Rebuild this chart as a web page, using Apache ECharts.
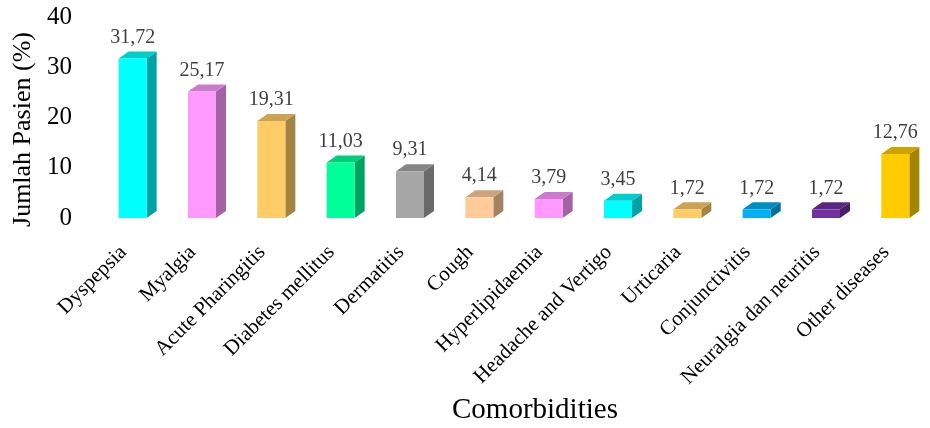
<!DOCTYPE html>
<html>
<head>
<meta charset="utf-8">
<script src="https://cdn.jsdelivr.net/npm/echarts@6/dist/echarts.min.js"></script>
<style>
  html, body { margin: 0; padding: 0; background: #fff; }
  #chart { width: 930px; height: 428px; }
</style>
</head>
<body>
<div id="chart"></div>
<script>
const categories = [
  'Dyspepsia', 'Myalgia', 'Acute Pharingitis', 'Diabetes mellitus', 'Dermatitis', 'Cough',
  'Hyperlipidaemia', 'Headache and Vertigo', 'Urticaria', 'Conjunctivitis',
  'Neuralgia dan neuritis', 'Other diseases'
]
const values = [31.72, 25.17, 19.31, 11.03, 9.31, 4.14, 3.79, 3.45, 1.72, 1.72, 1.72, 12.76]
const barColors = [
  '#00ffff', '#ff99ff', '#ffcc66', '#00ff99', '#a6a6a6', '#ffcc99',
  '#ff99ff', '#00ffff', '#ffcc66', '#00b0f0', '#7030a0', '#ffcc00'
]
const yTicks = [0, 10, 20, 30, 40]

const FONT = "'Liberation Serif', 'Times New Roman', serif"

// darken a hex colour by factor k
function shade(hex, k) {
  const n = parseInt(hex.slice(1), 16)
  const r = Math.round(((n >> 16) & 255) * k)
  const g = Math.round(((n >> 8) & 255) * k)
  const b = Math.round((n & 255) * k)
  return 'rgb(' + r + ',' + g + ',' + b + ')'
}

const chart = echarts.init(document.getElementById('chart'))

const W = 28, DX = 10, DY = 7

function renderBar(params, api) {
  const idx = api.value(0)
  const top = api.coord([idx, api.value(1)])
  const base = api.coord([idx, 0])
  const x = top[0] - W / 2
  const color = barColors[params.dataIndex]
  const label = api.value(1).toFixed(2).replace('.', ',')
  return {
    type: 'group',
    children: [
      {
        type: 'polygon',
        shape: { points: [[x + W, top[1]], [x + W + DX, top[1] - DY], [x + W + DX, base[1] - DY], [x + W, base[1]]] },
        style: { fill: shade(color, 0.64) }
      },
      {
        type: 'polygon',
        shape: { points: [[x, top[1]], [x + DX, top[1] - DY], [x + W + DX, top[1] - DY], [x + W, top[1]]] },
        style: { fill: shade(color, 0.8) }
      },
      {
        type: 'rect',
        shape: { x: x, y: top[1], width: W, height: base[1] - top[1] },
        style: { fill: color }
      },
      {
        type: 'text',
        style: {
          text: label, x: top[0], y: top[1] - DY - 4,
          align: 'center', verticalAlign: 'bottom',
          font: '20px ' + FONT, fill: '#404040'
        }
      }
    ]
  }
}

chart.setOption({
  animation: false,
  grid: { left: 98, top: 17, width: 840, height: 201 },
  xAxis: {
    type: 'category',
    data: categories,
    axisLine: { show: false },
    axisTick: { show: false },
    axisLabel: { rotate: 45, margin: 22, padding: [0, 13, 0, 0], fontFamily: FONT, fontSize: 21, color: '#000' }
  },
  yAxis: {
    type: 'value',
    min: yTicks[0],
    max: yTicks[yTicks.length - 1],
    interval: 10,
    name: 'Jumlah Pasien (%)',
    nameLocation: 'middle',
    nameGap: 60,
    nameTextStyle: { fontFamily: FONT, fontSize: 26, color: '#000', padding: [0, 24, 0, 0] },
    axisLine: { show: false },
    axisTick: { show: false },
    splitLine: { show: false },
    axisLabel: { margin: 26, padding: [8, 0, 0, 0], fontFamily: FONT, fontSize: 25, color: '#000' }
  },
  graphic: [{
    type: 'text',
    left: 452,
    top: 396,
    style: { text: 'Comorbidities', font: '29px ' + FONT, fill: '#000' }
  }],
  series: [{
    type: 'custom',
    renderItem: renderBar,
    data: values.map((v, i) => [i, v])
  }]
})
</script>
</body>
</html>
